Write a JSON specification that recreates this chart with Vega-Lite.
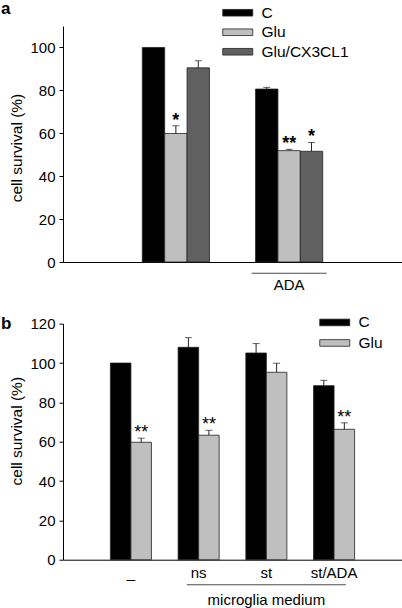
{
  "$schema": "https://vega.github.io/schema/vega-lite/v6.json",
  "padding": 0,
  "background": "white",
  "config": {
    "font": "Liberation Sans",
    "view": {"stroke": null},
    "axis": {"domainColor": "#000", "tickColor": "#000", "labelColor": "#000", "titleColor": "#000", "grid": false, "labelFont": "Liberation Sans", "titleFont": "Liberation Sans", "titleFontWeight": "normal", "labelFontSize": 15, "titleFontSize": 15.5, "domainWidth": 1, "tickWidth": 1, "labelOverlap": false},
    "legend": {"labelFont": "Liberation Sans", "labelColor": "#000", "labelFontSize": 15.5, "padding": 0, "offset": 0},
    "title": {"fontSize": 17, "fontWeight": "bold", "anchor": "start", "frame": "bounds", "baseline": "alphabetic", "color": "#000", "font": "Liberation Sans"}
  },
  "datasets": {
    "a": [
      {"group": "none", "cond": "C", "value": 100, "upper": null, "star": ""},
      {"group": "none", "cond": "Glu", "value": 59.9, "upper": 63.5, "star": "*"},
      {"group": "none", "cond": "Glu/CX3CL1", "value": 90.5, "upper": 93.8, "star": ""},
      {"group": "ADA", "cond": "C", "value": 80.6, "upper": 81.4, "star": ""},
      {"group": "ADA", "cond": "Glu", "value": 51.9, "upper": 52.5, "star": "**"},
      {"group": "ADA", "cond": "Glu/CX3CL1", "value": 51.6, "upper": 55.7, "star": "*"}
    ],
    "a_ann": [
      {"group": "ADA", "y": -5.2}
    ],
    "b": [
      {"group": "_", "cond": "C", "value": 100, "upper": null, "star": ""},
      {"group": "_", "cond": "Glu", "value": 59.7, "upper": 61.8, "star": "**"},
      {"group": "ns", "cond": "C", "value": 108, "upper": 112.9, "star": ""},
      {"group": "ns", "cond": "Glu", "value": 63.3, "upper": 65.8, "star": "**"},
      {"group": "st", "cond": "C", "value": 105.1, "upper": 109.9, "star": ""},
      {"group": "st", "cond": "Glu", "value": 95.3, "upper": 99.9, "star": ""},
      {"group": "st/ADA", "cond": "C", "value": 88.5, "upper": 91.2, "star": ""},
      {"group": "st/ADA", "cond": "Glu", "value": 66.3, "upper": 69.6, "star": "**"}
    ],
    "b_ann": [
      {"group": "st", "y": -12.7, "ty": -20.5, "label": "microglia medium"}
    ]
  },
  "resolve": {"scale": {"color": "independent", "x": "independent", "y": "independent", "xOffset": "independent"}},
  "spacing": 22.7,
  "vconcat": [
    {
      "width": 339,
      "height": 236,
      "title": {"text": "a", "offset": -13, "dx": -9},
      "layer": [
        {
          "data": {"name": "a"},
          "mark": {"type": "bar", "stroke": "#222", "strokeWidth": 0.8},
          "encoding": {
            "x": {"field": "group", "type": "nominal", "sort": null, "scale": {"paddingInner": 0.407, "paddingOuter": 0.7}, "axis": {"title": null, "ticks": false, "labelAngle": 0, "labelPadding": 15, "labelExpr": "datum.value == 'ADA' ? 'ADA' : ''"}},
            "xOffset": {"field": "cond", "type": "nominal", "sort": null, "scale": {"paddingInner": 0, "paddingOuter": 0}},
            "y": {"field": "value", "type": "quantitative", "scale": {"domain": [0, 110]}, "axis": {"title": "cell survival (%)", "values": [0, 20, 40, 60, 80, 100], "tickSize": 4, "labelPadding": 4, "titlePadding": 5, "labelOverlap": false, "titleY": 121.5}},
            "color": {"field": "cond", "type": "nominal", "sort": null, "scale": {"domain": ["C", "Glu", "Glu/CX3CL1"], "range": ["#000000", "#bfbfbf", "#606060"]}, "legend": {"title": null, "orient": "none", "legendX": 167, "legendY": -21, "symbolType": "M-3,-0.66H3V0.66H-3Z", "symbolSize": 100, "symbolStrokeColor": "#222", "symbolStrokeWidth": 0.8, "labelOffset": 16, "rowPadding": 2.5}}
          }
        },
        {
          "data": {"name": "a"},
          "transform": [{"filter": "datum.upper != null"}],
          "mark": {"type": "rule", "color": "#222", "strokeWidth": 1},
          "encoding": {
            "x": {"field": "group", "type": "nominal", "sort": null},
            "xOffset": {"field": "cond", "type": "nominal", "sort": null},
            "y": {"field": "value", "type": "quantitative"},
            "y2": {"field": "upper"}
          }
        },
        {
          "data": {"name": "a"},
          "transform": [{"filter": "datum.upper != null"}],
          "mark": {"type": "tick", "color": "#222", "thickness": 1, "size": 7, "orient": "horizontal"},
          "encoding": {
            "x": {"field": "group", "type": "nominal", "sort": null},
            "xOffset": {"field": "cond", "type": "nominal", "sort": null},
            "y": {"field": "upper", "type": "quantitative"}
          }
        },
        {
          "data": {"name": "a"},
          "transform": [{"filter": "datum.star != ''"}],
          "mark": {"type": "text", "fontSize": 18, "fontWeight": "bold", "baseline": "alphabetic", "dy": 0, "color": "#000"},
          "encoding": {
            "x": {"field": "group", "type": "nominal", "sort": null},
            "xOffset": {"field": "cond", "type": "nominal", "sort": null},
            "y": {"field": "upper", "type": "quantitative"},
            "text": {"field": "star"}
          }
        },
        {
          "data": {"name": "a_ann"},
          "mark": {"type": "tick", "color": "#000", "thickness": 1, "size": 75, "orient": "horizontal"},
          "encoding": {
            "x": {"field": "group", "type": "nominal", "sort": null},
            "y": {"field": "y", "type": "quantitative"}
          }
        }
      ]
    },
    {
      "width": 339,
      "height": 236,
      "title": {"text": "b", "offset": -18.3, "dx": -9},
      "layer": [
        {
          "data": {"name": "b"},
          "mark": {"type": "bar", "stroke": "#222", "strokeWidth": 0.8},
          "encoding": {
            "x": {"field": "group", "type": "nominal", "sort": null, "scale": {"paddingInner": 0.394, "paddingOuter": 0.7}, "axis": {"title": null, "ticks": false, "labelAngle": 0, "labelPadding": 6}},
            "xOffset": {"field": "cond", "type": "nominal", "sort": null, "scale": {"paddingInner": 0, "paddingOuter": 0}},
            "y": {"field": "value", "type": "quantitative", "scale": {"domain": [0, 120], "nice": false}, "axis": {"title": "cell survival (%)", "tickCount": 6, "tickSize": 4, "labelPadding": 4, "titlePadding": 5, "labelOverlap": false, "labelBound": false, "titleY": 107}},
            "color": {"field": "cond", "type": "nominal", "sort": null, "scale": {"domain": ["C", "Glu"], "range": ["#000000", "#bfbfbf"]}, "legend": {"title": null, "orient": "none", "legendX": 264, "legendY": -9, "symbolType": "M-3,-0.66H3V0.66H-3Z", "symbolSize": 100, "symbolStrokeColor": "#222", "symbolStrokeWidth": 0.8, "labelOffset": 16, "rowPadding": 3.5}}
          }
        },
        {
          "data": {"name": "b"},
          "transform": [{"filter": "datum.upper != null"}],
          "mark": {"type": "rule", "color": "#222", "strokeWidth": 1},
          "encoding": {
            "x": {"field": "group", "type": "nominal", "sort": null},
            "xOffset": {"field": "cond", "type": "nominal", "sort": null},
            "y": {"field": "value", "type": "quantitative"},
            "y2": {"field": "upper"}
          }
        },
        {
          "data": {"name": "b"},
          "transform": [{"filter": "datum.upper != null"}],
          "mark": {"type": "tick", "color": "#222", "thickness": 1, "size": 7, "orient": "horizontal"},
          "encoding": {
            "x": {"field": "group", "type": "nominal", "sort": null},
            "xOffset": {"field": "cond", "type": "nominal", "sort": null},
            "y": {"field": "upper", "type": "quantitative"}
          }
        },
        {
          "data": {"name": "b"},
          "transform": [{"filter": "datum.star != ''"}],
          "mark": {"type": "text", "fontSize": 18, "baseline": "alphabetic", "dy": 0, "color": "#000"},
          "encoding": {
            "x": {"field": "group", "type": "nominal", "sort": null},
            "xOffset": {"field": "cond", "type": "nominal", "sort": null},
            "y": {"field": "upper", "type": "quantitative"},
            "text": {"field": "star"}
          }
        },
        {
          "data": {"name": "b_ann"},
          "mark": {"type": "tick", "color": "#000", "thickness": 1, "size": 159, "orient": "horizontal"},
          "encoding": {
            "x": {"field": "group", "type": "nominal", "sort": null},
            "y": {"field": "y", "type": "quantitative"}
          }
        },
        {
          "data": {"name": "b_ann"},
          "mark": {"type": "text", "fontSize": 15, "baseline": "middle", "color": "#000"},
          "encoding": {
            "x": {"field": "group", "type": "nominal", "sort": null},
            "y": {"field": "ty", "type": "quantitative"},
            "text": {"field": "label"}
          }
        }
      ]
    }
  ]
}
